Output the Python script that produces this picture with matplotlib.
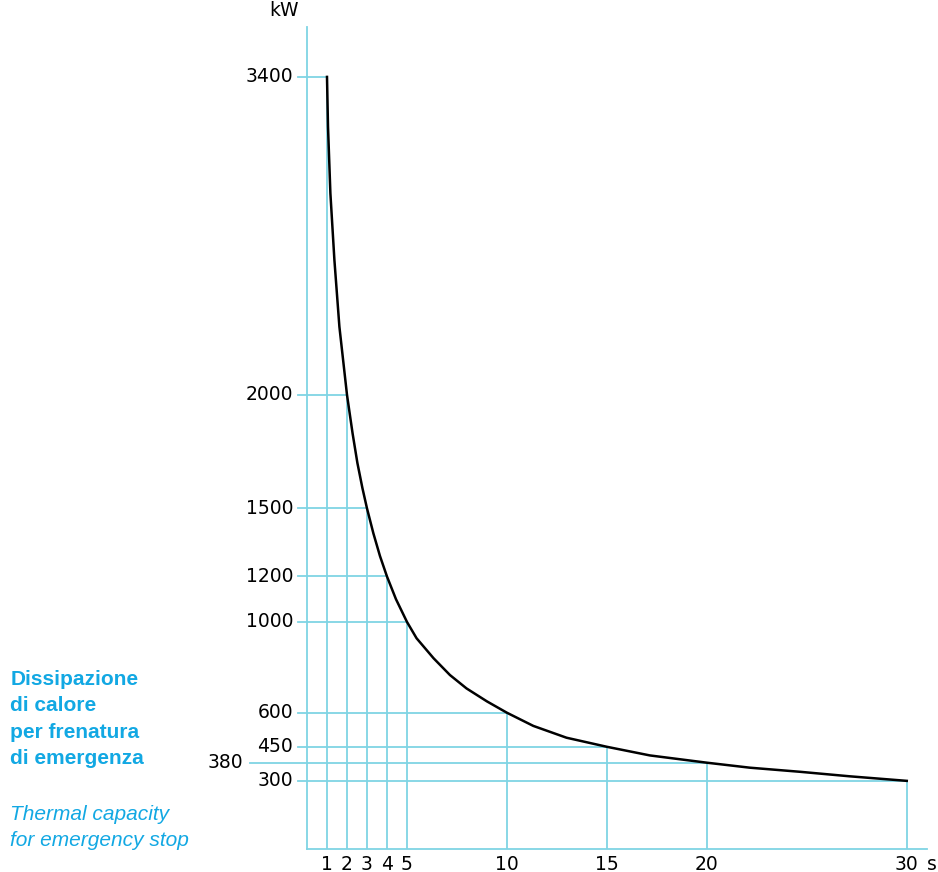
import matplotlib
matplotlib.use("Agg")
import matplotlib.pyplot as plt

# marked points (s, kW)
grid_s = [1, 2, 3, 4, 5, 10, 15, 20, 30]
grid_kw = [3400, 2000, 1500, 1200, 1000, 600, 450, 380, 300]

# curve
curve_s = [1, 1.05, 1.17, 1.37, 1.62, 2, 2.28, 2.52, 2.77, 3, 3.32, 3.65, 4, 4.45, 5,
           5.48, 6.33, 7.15, 7.98, 9, 10, 11.32, 12.98, 15, 17.15, 20,
           22.15, 24.65, 27.15, 30]
curve_kw = [3400, 3181, 2887, 2594, 2300, 2000, 1830, 1700, 1590, 1500, 1390, 1290, 1200, 1100, 1000,
            928, 840, 766, 707, 650, 600, 542, 490, 450, 412, 380,
            358, 340, 320, 300]

line_c = "#7fd4e4"
text_c = "#12a8e3"

fig = plt.figure(figsize=(9.38, 8.72), dpi=100)
ax = fig.add_axes([0.3273, 0.0264, 0.6607, 0.9427])
ax.set_xlim(0, 31)
ax.set_ylim(0, 3620)

for s, kw in zip(grid_s, grid_kw):
    ax.plot([s, s], [0, kw], color=line_c, lw=1.3, zorder=1)
    ax.plot([0, s], [kw, kw], color=line_c, lw=1.3, zorder=1)
    if kw == 380:
        ax.plot([-2.85, 0], [kw, kw], color=line_c, lw=1.3, clip_on=False)
        ax.text(-3.2, kw, str(kw), ha="right", va="center", fontsize=13.5)
    else:
        ax.plot([-0.45, 0], [kw, kw], color=line_c, lw=1.3, clip_on=False)
        ax.text(-0.7, kw, str(kw), ha="right", va="center", fontsize=13.5)
    ax.text(s, -25, str(s), ha="center", va="top", fontsize=13.5)

ax.plot(curve_s, curve_kw, color="black", lw=1.8, zorder=3)

ax.text(31.0, -25, "s", ha="left", va="top", fontsize=13.5)
ax.text(-0.4, 3650, "kW", ha="right", va="bottom", fontsize=13.5)

for side in ["top", "right"]:
    ax.spines[side].set_visible(False)
for side in ["left", "bottom"]:
    ax.spines[side].set_color(line_c)
    ax.spines[side].set_linewidth(1.3)
ax.set_xticks([])
ax.set_yticks([])

fig.text(0.011, 0.2317, "Dissipazione\ndi calore\nper frenatura\ndi emergenza",
         color=text_c, fontsize=15, fontweight="bold", family="Liberation Sans",
         ha="left", va="top", linespacing=1.5)
fig.text(0.011, 0.077, "Thermal capacity\nfor emergency stop",
         color=text_c, fontsize=15, style="italic", family="Liberation Sans",
         ha="left", va="top", linespacing=1.5)

fig.savefig("out.png", dpi=100)
